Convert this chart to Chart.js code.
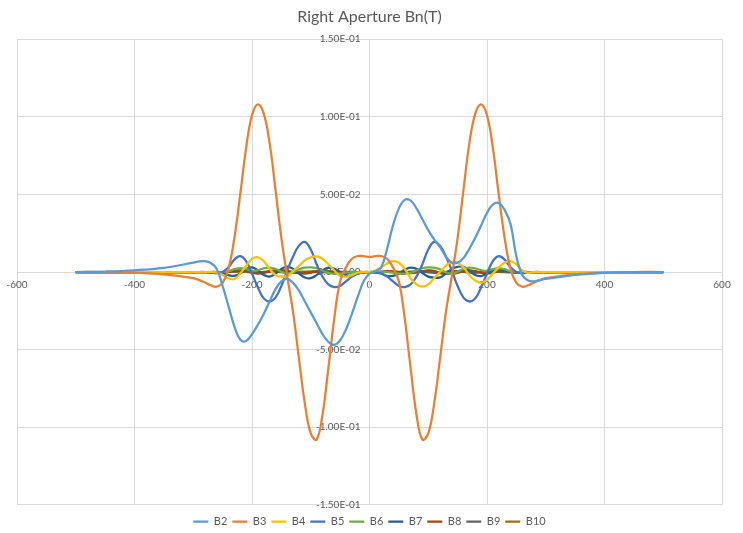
<!DOCTYPE html>
<html>
<head>
<meta charset="utf-8">
<script src="https://cdn.jsdelivr.net/npm/chart.js@4"></script>
<style>
  html, body { margin: 0; padding: 0; background: #ffffff; }
  #wrap { width: 743px; height: 533px; }
</style>
</head>
<body>
<div id="wrap"><canvas id="chart"></canvas></div>
<script>
// Longitudinal position (mm)
const positions = [
  -500, -450, -400, -350,
  -300, -290, -280, -270, -260, -250, -240, -230, -220, -210,
  -200, -190, -180, -170, -160, -150, -140, -130, -120, -110,
  -100, -90, -80, -70, -60, -50, -40, -30, -20, -10,
  0,
  10, 20, 30, 40, 50, 60, 70, 80, 90, 100,
  110, 120, 130, 140, 150, 160, 170, 180, 190, 200,
  210, 220, 230, 240, 250, 260, 270, 280, 290, 300,
  350, 400, 450, 500
];

// Harmonic field components Bn (T) at each position
const b2 = [
  0, 0.0003, 0.0011, 0.0027,
  0.006, 0.0068, 0.007, 0.0058, 0.002, -0.009, -0.022, -0.035, -0.0435, -0.0445,
  -0.040, -0.034, -0.027, -0.019, -0.011, -0.006, -0.0045, -0.007, -0.012, -0.019,
  -0.026, -0.033, -0.040, -0.045, -0.047, -0.044, -0.037, -0.027, -0.016, -0.006,
  -0.001,
  0.0005, 0.003, 0.015, 0.030, 0.041, 0.0465, 0.046, 0.041, 0.034, 0.027,
  0.021, 0.016, 0.010, 0.006, 0.006, 0.009, 0.015, 0.022, 0.030, 0.038,
  0.0435, 0.0445, 0.040, 0.031, 0.010, -0.002, -0.0055, -0.006, -0.0052, -0.0045,
  -0.0018, -0.0005, -0.0001, 0
];
const b3 = [
  0, 0, -0.0004, -0.0015,
  -0.004, -0.0052, -0.0068, -0.0085, -0.0095, -0.007, 0.002, 0.022, 0.050, 0.080,
  0.101, 0.108, 0.102, 0.083, 0.053, 0.022, -0.003, -0.026, -0.056, -0.085,
  -0.104, -0.108, -0.092, -0.062, -0.030, -0.006, 0.003, 0.0085, 0.0103, 0.0102,
  0.0097,
  0.0102, 0.0103, 0.0085, 0.003, -0.006, -0.030, -0.062, -0.092, -0.108, -0.104,
  -0.085, -0.056, -0.026, -0.003, 0.022, 0.053, 0.083, 0.102, 0.108, 0.101,
  0.080, 0.050, 0.022, 0.002, -0.007, -0.0095, -0.0085, -0.0068, -0.0052, -0.004,
  -0.0015, -0.0004, 0, 0
];
const b4 = [
  0, 0, 0, 0,
  0, 0, 0, 0, -0.0003, -0.002, -0.0042, -0.0045, -0.001, 0.004,
  0.0085, 0.0095, 0.007, 0.002, -0.002, -0.003, -0.0025, 0.0005, 0.004, 0.0075,
  0.0095, 0.010, 0.0085, 0.005, 0.001, -0.0025, -0.003, -0.002, -0.0005, 0,
  0,
  0.001, 0.003, 0.0055, 0.007, 0.006, 0.002, -0.004, -0.008, -0.0095, -0.008,
  -0.004, 0.0, 0.004, 0.0065, 0.006, 0.003, -0.002, -0.0055, -0.007, -0.005,
  -0.001, 0.003, 0.006, 0.007, 0.005, 0.001, -0.0005, 0, 0, 0,
  0, 0, 0, 0
];
const b5 = [
  0, 0, 0, 0,
  0, 0, 0, -0.0005, -0.0008, 0.0, 0.003, 0.008, 0.0102, 0.007,
  -0.001, -0.010, -0.017, -0.019, -0.0165, -0.009, 0.001, 0.010, 0.017, 0.0194,
  0.0145, 0.005, -0.003, -0.008, -0.0097, -0.009, -0.006, -0.003, -0.001, -0.0005,
  0,
  -0.0005, -0.001, -0.003, -0.006, -0.009, -0.0097, -0.008, -0.003, 0.005, 0.0145,
  0.0194, 0.017, 0.010, 0.001, -0.009, -0.0165, -0.019, -0.017, -0.010, -0.001,
  0.007, 0.0102, 0.008, 0.003, 0.0, -0.0008, -0.0005, 0, 0, 0,
  0, 0, 0, 0
];
const b6 = [
  0, 0, 0, 0,
  0, 0, 0, 0, 0, 0, 0.0005, 0.0018, 0.0025, 0.0018,
  0.0008, 0.0012, 0.0024, 0.0028, 0.002, 0.0002, -0.001, -0.0003, 0.0018, 0.0028,
  0.003, 0.0024, 0.001, -0.0005, -0.0012, -0.001, -0.0004, 0, 0, 0,
  0,
  0, 0, 0, -0.0004, -0.001, -0.0012, -0.0005, 0.001, 0.0024, 0.003,
  0.0028, 0.0018, -0.0003, -0.001, 0.0002, 0.002, 0.0028, 0.0024, 0.0012, 0.0008,
  0.0018, 0.0025, 0.0018, 0.0005, 0, 0, 0, 0, 0, 0,
  0, 0, 0, 0
];
const b7 = [
  0, 0, 0, 0,
  0, 0, 0, 0, 0, -0.0005, -0.002, -0.0025, -0.001, 0.002,
  0.003, 0.001, -0.002, -0.003, -0.001, 0.002, 0.0035, 0.002, -0.001, -0.0035,
  -0.004, -0.002, 0.001, 0.0028, 0.002, 0, -0.002, -0.0025, -0.001, 0,
  0,
  0, -0.001, -0.0025, -0.0025, -0.001, 0.0015, 0.0028, 0.002, -0.0005, -0.003,
  -0.0037, -0.0035, -0.001, 0.002, 0.0033, 0.0034, 0.001, -0.002, -0.0026, -0.001,
  0.001, 0.0018, 0.001, 0, -0.0005, 0, 0, 0, 0, 0,
  0, 0, 0, 0
];
const b8 = [
  0, 0, 0, 0,
  0, 0, 0, 0, 0, 0, 0.0003, 0.0008, 0.001, 0.0005,
  -0.0005, -0.001, -0.0005, 0.0005, 0.001, 0.0012, 0.0008, 0, -0.0008, -0.001,
  -0.0005, 0.0003, 0.0008, 0.0006, 0, -0.0004, -0.0005, -0.0002, 0, 0,
  0,
  0, 0.0002, 0.0005, 0.0004, 0, -0.0006, -0.0008, -0.0003, 0.0005, 0.001,
  0.0008, -0.0008, -0.0012, -0.001, -0.0005, 0.0005, 0.001, 0.0005, -0.0005, -0.001,
  -0.0005, 0.0005, 0.0008, 0.0003, 0, 0, 0, 0, 0, 0,
  0, 0, 0, 0
];
const b9 = [
  0, 0, 0, 0,
  0, 0, 0, 0, 0, 0, 0, 0.0003, 0.0006, 0.0004,
  0, -0.0004, -0.0003, 0.0002, 0.0006, 0.0005, 0.0001, -0.0004, -0.0005, -0.0002,
  0.0003, 0.0005, 0.0002, -0.0002, -0.0003, -0.0001, 0.0001, 0.0001, 0, 0,
  0,
  0, 0.0001, 0.0001, -0.0001, -0.0003, -0.0002, 0.0002, 0.0005, 0.0003, -0.0002,
  -0.0005, -0.0004, 0.0001, 0.0005, 0.0006, 0.0002, -0.0003, -0.0004, 0, 0.0004,
  0.0006, 0.0003, 0, 0, 0, 0, 0, 0, 0, 0,
  0, 0, 0, 0
];
const b10 = [
  0, 0, 0, 0,
  0, 0, 0, 0, 0, 0, 0, 0.0002, 0.0003, 0.0001,
  -0.0002, -0.0002, 0.0001, 0.0003, 0.0002, -0.0001, -0.0003, -0.0002, 0.0001, 0.0003,
  0.0002, -0.0001, -0.0002, 0, 0.0001, 0.0001, 0, 0, 0, 0,
  0,
  0, 0, 0, 0.0001, 0.0001, 0, -0.0002, -0.0001, 0.0002, 0.0003,
  0.0001, -0.0003, -0.0002, 0.0002, 0.0003, 0.0001, -0.0002, -0.0002, 0.0001, 0.0003,
  0.0001, 0, 0, 0, 0, 0, 0, 0, 0, 0,
  0, 0, 0, 0
];

const seriesNames = ['B2', 'B3', 'B4', 'B5', 'B6', 'B7', 'B8', 'B9', 'B10'];
const seriesValues = [b2, b3, b4, b5, b6, b7, b8, b9, b10];
const seriesColors = ['#5B9BD5', '#ED7D31', '#FFC000', '#4472C4', '#70AD47',
                      '#255E91', '#9E480E', '#636363', '#997300'];

// Axis ticks
const xTickStep = 200;
const yTickStep = 0.05;

const FONT = 'Lato, "Open Sans", "Liberation Sans", sans-serif';
const TEXT = '#595959';
const GRID = '#d9d9d9';

// Engineering-style label: 1.50E-01
function sciLabel(v) {
  if (Math.abs(v) < 1e-12) return '0.00E+00';
  const parts = Number(v).toExponential(2).split('e');
  const exp = parseInt(parts[1], 10);
  return parts[0] + 'E' + (exp < 0 ? '-' : '+') + String(Math.abs(exp)).padStart(2, '0');
}

// Axes that cross at the origin ignore tick padding, so nudge their labels
// away from the axis lines when they are drawn.
const labelOffsets = { x: [0, 2], y: [-9, 0] };
const crossedAxisLabels = {
  id: 'crossedAxisLabels',
  afterLayout(chart) {
    Object.keys(labelOffsets).forEach((id) => {
      const scale = chart.scales[id];
      if (!scale || scale._offsetPatched) return;
      const draw = scale.drawLabels.bind(scale);
      const [dx, dy] = labelOffsets[id];
      scale.drawLabels = function (area) {
        this.ctx.save();
        this.ctx.translate(dx, dy);
        draw(area);
        this.ctx.restore();
      };
      scale._offsetPatched = true;
    });
  }
};

const datasets = seriesNames.map((name, k) => ({
  label: name,
  data: positions.map((x, i) => ({ x: x, y: seriesValues[k][i] })),
  showLine: true,
  borderColor: seriesColors[k],
  backgroundColor: seriesColors[k],
  borderWidth: 2.25,
  pointRadius: 0,
  pointHoverRadius: 0,
  tension: 0.4,
  fill: false
}));

new Chart(document.getElementById('chart'), {
  type: 'scatter',
  data: { datasets: datasets },
  plugins: [crossedAxisLabels],
  options: {
    responsive: true,
    maintainAspectRatio: false,
    animation: false,
    events: [],
    layout: { padding: { left: 17, right: 21, top: 0, bottom: -4 } },
    scales: {
      x: {
        type: 'linear',
        min: -600,
        max: 600,
        position: { y: 0 },
        ticks: {
          stepSize: xTickStep,
          padding: 5,
          color: TEXT,
          font: { family: FONT, size: 10 },
          maxRotation: 0,
          autoSkip: false
        },
        grid: { color: GRID, drawTicks: false, lineWidth: 1 },
        border: { color: GRID, width: 1 }
      },
      y: {
        type: 'linear',
        min: -0.15,
        max: 0.15,
        position: { x: 0 },
        ticks: {
          stepSize: yTickStep,
          padding: 10,
          color: TEXT,
          font: { family: FONT, size: 10 },
          callback: (v) => sciLabel(v)
        },
        grid: { color: GRID, drawTicks: false, lineWidth: 1 },
        border: { color: GRID, width: 1 }
      }
    },
    plugins: {
      title: {
        display: true,
        text: 'Right Aperture Bn(T)',
        color: TEXT,
        font: { family: FONT, size: 16, weight: 'normal' },
        padding: { top: 7, bottom: 13 }
      },
      legend: {
        position: 'bottom',
        title: { display: true, text: ' ', font: { size: 1 }, padding: { top: 0, bottom: 5 } },
        labels: {
          boxWidth: 15,
          boxHeight: 0,
          padding: 5,
          color: TEXT,
          font: { family: FONT, size: 11 }
        }
      },
      tooltip: { enabled: false }
    }
  }
});
</script>
</body>
</html>
